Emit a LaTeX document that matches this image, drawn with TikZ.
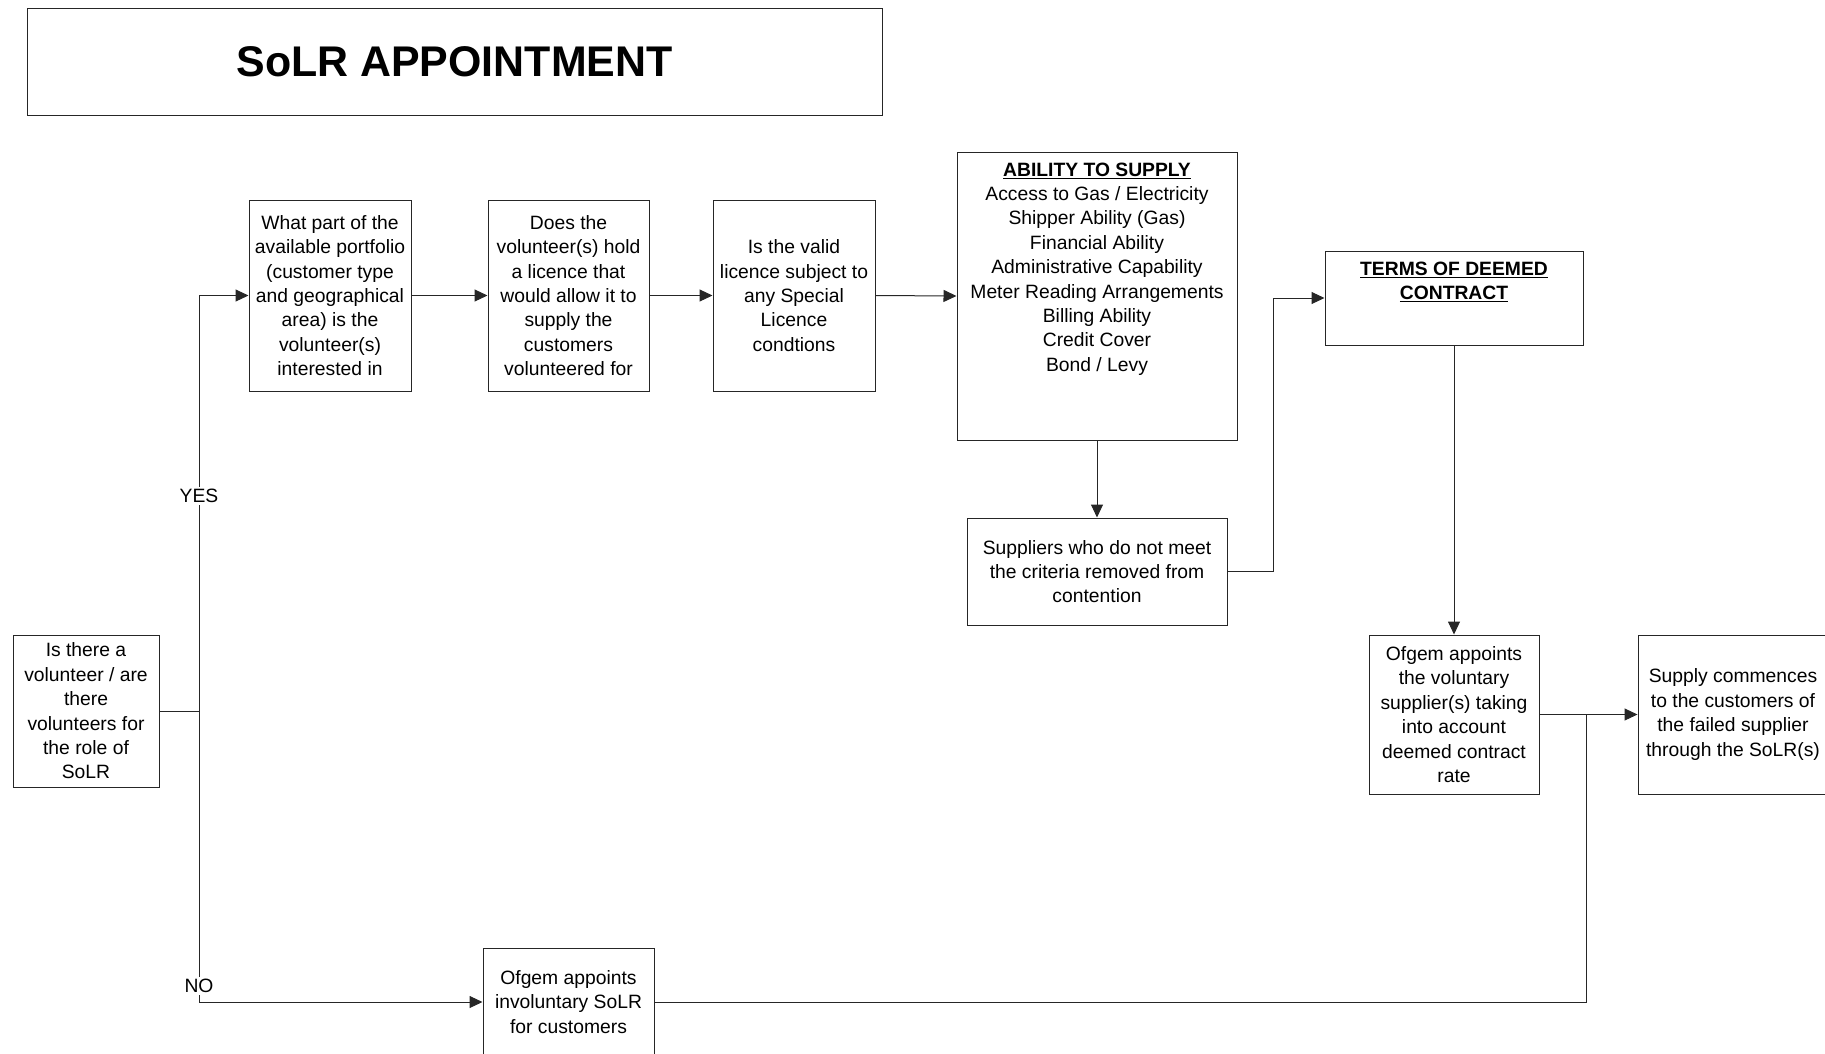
\documentclass[tikz,border=0pt]{standalone}
\usepackage{fontspec}
\setmainfont{Liberation Sans}
\usetikzlibrary{arrows.meta}
\begin{document}
\begin{tikzpicture}[x=1pt,y=-1pt,
  every node/.style={font=\fontsize{19.3}{24.4}\selectfont, text=black},
  box/.style={draw=black!85, line width=1pt, rectangle, inner sep=0pt, align=center},
  txt/.style={inner sep=0pt, align=center},
  lbl/.style={fill=white, inner sep=2pt},
  conn/.style={draw=black!85, line width=1pt},
  arr/.style={conn, -{Triangle[length=13pt,width=12pt]}}]
\useasboundingbox (0,0) rectangle (1825,1053);
% title
\node[box, minimum width=855pt, minimum height=107pt] (title) at (454.5,61.5)
  {\fontsize{42.9}{50}\selectfont\bfseries SoLR APPOINTMENT};
% boxes
\node[box, minimum width=162pt, minimum height=191pt] (A) at (330,295.5)
  {What part of the\\available portfolio\\(customer type\\and geographical\\area) is the\\volunteer(s)\\interested in};
\node[box, minimum width=161pt, minimum height=191pt] (B) at (568.5,295.5)
  {Does the\\volunteer(s) hold\\a licence that\\would allow it to\\supply the\\customers\\volunteered for};
\node[box, minimum width=162pt, minimum height=191pt] (C) at (794,295.5)
  {Is the valid\\licence subject to\\any Special\\Licence\\condtions};
\node[box, minimum width=280pt, minimum height=288pt] (D) at (1097,296) {};
\node[txt, anchor=north] (Dt) at (1097,162.5)
  {\textbf{\underline{ABILITY TO SUPPLY}}\\Access to Gas / Electricity\\Shipper Ability (Gas)\\Financial Ability\\Administrative Capability\\Meter Reading Arrangements\\Billing Ability\\Credit Cover\\Bond / Levy};
\node[box, minimum width=258pt, minimum height=94pt] (E) at (1454,298) {};
\node[txt, anchor=north] (Et) at (1454,261.5)
  {\textbf{\underline{TERMS OF DEEMED}}\\\textbf{\underline{CONTRACT}}};
\node[box, minimum width=260pt, minimum height=107pt] (F) at (1097,571.5)
  {Suppliers who do not meet\\the criteria removed from\\contention};
\node[box, minimum width=146pt, minimum height=152pt] (G) at (86,711)
  {Is there a\\volunteer / are\\there\\volunteers for\\the role of\\SoLR};
\node[box, minimum width=170pt, minimum height=159pt] (H) at (1454,714.5)
  {Ofgem appoints\\the voluntary\\supplier(s) taking\\into account\\deemed contract\\rate};
\node[box, minimum width=190pt, minimum height=159pt] (I) at (1733,714.5)
  {Supply commences\\to the customers of\\the failed supplier\\through the SoLR(s)};
\node[box, minimum width=171pt, minimum height=108pt] (J) at (568.5,1002)
  {Ofgem appoints\\involuntary SoLR\\for customers};
% helper coordinates
\coordinate (split) at (199,711);
\coordinate (fx) at (1273,0);
\coordinate (jn) at (1586,714.5);
% connectors
\draw[conn] (G.east) -- (split);
\draw[arr] (split) |- (A.west);
\draw[arr] (split) |- (J.west);
\draw[arr] (A.east) -- (B.west);
\draw[arr] (B.east) -- (C.west);
\draw[arr] (C.east) -- (D.west);
\draw[arr] (D.south) -- (F.north);
\draw[arr] (F.east) -- (F.east -| fx) |- (E.west);
\draw[arr] (E.south) -- (H.north);
\draw[arr] (H.east) -- (I.west);
\draw[conn] (J.east) -| (jn);
% labels
\node[lbl] (yes) at (199,496) {YES};
\node[lbl] (no) at (199,986) {NO};
\end{tikzpicture}
\end{document}
